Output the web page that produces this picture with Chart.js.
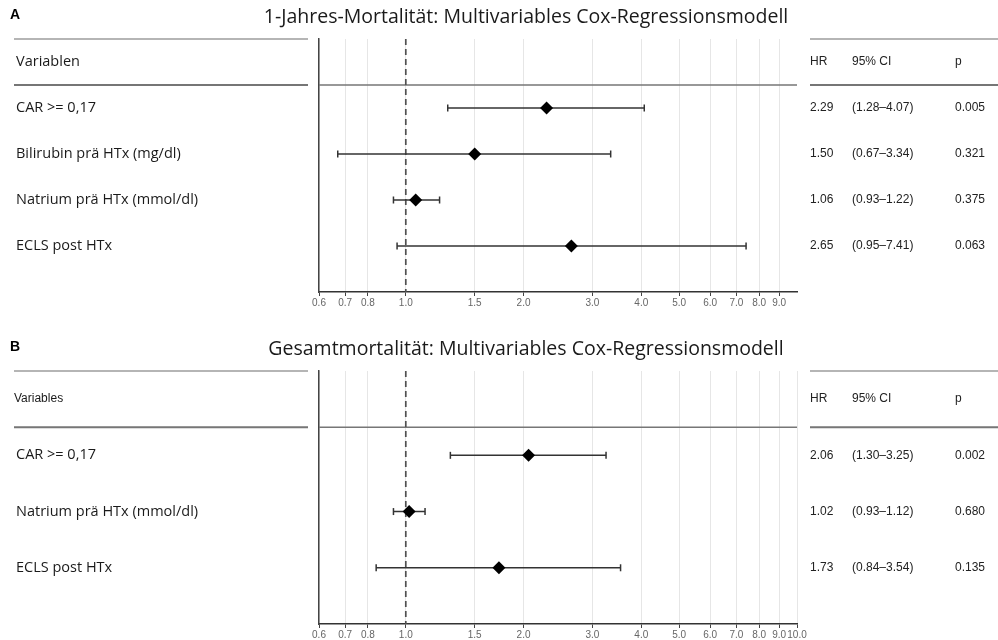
<!DOCTYPE html>
<html>
<head>
<meta charset="utf-8">
<script src="https://cdn.jsdelivr.net/npm/chart.js@4/dist/chart.umd.min.js"></script>
<style>
  html, body { margin: 0; padding: 0; background: #fff; overflow: hidden; }
  .panel { position: absolute; left: 0; width: 998px; height: 320px; }
  #wrapA { top: 0; }
  #wrapB { top: 320px; }
</style>
</head>
<body>
<div class="panel" id="wrapA"><canvas id="chartA" width="998" height="320"></canvas></div>
<div class="panel" id="wrapB"><canvas id="chartB" width="998" height="320"></canvas></div>
<script>
// Panel A: 1-year mortality
const titleA = '1-Jahres-Mortalität: Multivariables Cox-Regressionsmodell';
const headerA = 'Variablen';
const rowsA = ['CAR >= 0,17', 'Bilirubin prä HTx (mg/dl)', 'Natrium prä HTx (mmol/dl)', 'ECLS post HTx'];
const hrA = [2.29, 1.50, 1.06, 2.65];
const loA = [1.28, 0.67, 0.93, 0.95];
const hiA = [4.07, 3.34, 1.22, 7.41];
const pA = ['0.005', '0.321', '0.375', '0.063'];
const ticksA = [0.6, 0.7, 0.8, 1.0, 1.5, 2.0, 3.0, 4.0, 5.0, 6.0, 7.0, 8.0, 9.0];

// Panel B: overall mortality
const titleB = 'Gesamtmortalität: Multivariables Cox-Regressionsmodell';
const headerB = 'Variables';
const rowsB = ['CAR >= 0,17', 'Natrium prä HTx (mmol/dl)', 'ECLS post HTx'];
const hrB = [2.06, 1.02, 1.73];
const loB = [1.30, 0.93, 0.84];
const hiB = [3.25, 1.12, 3.54];
const pB = ['0.002', '0.680', '0.135'];
const ticksB = [0.6, 0.7, 0.8, 1.0, 1.5, 2.0, 3.0, 4.0, 5.0, 6.0, 7.0, 8.0, 9.0, 10.0];

const X_MIN = 0.6, X_MAX = 10;
const SANS = '"Open Sans", "Noto Sans", sans-serif';
const ARIAL = '"Liberation Sans", Arial, sans-serif';

// Draws the panel letter, title and the two side tables around the plot
const forestTable = {
  id: 'forestTable',
  afterDraw(chart, args, o) {
    const ctx = chart.ctx;
    const y = chart.scales.y;
    const area = chart.chartArea;
    ctx.save();

    // panel letter and title
    ctx.fillStyle = '#000';
    ctx.textBaseline = 'middle';
    ctx.textAlign = 'left';
    ctx.font = 'bold 14px ' + ARIAL;
    ctx.fillText(o.letter, 10, o.letterY);
    ctx.font = '19.5px ' + SANS;
    ctx.fillStyle = '#1a1a1a';
    ctx.textAlign = 'center';
    ctx.fillText(o.title, 526, o.titleY);

    // table rules
    const topY = area.top;
    const hdrY = y.getPixelForValue(0.5);
    ctx.lineWidth = 2;
    ctx.strokeStyle = '#b5b5b5';
    ctx.beginPath();
    ctx.moveTo(14, topY); ctx.lineTo(308, topY);
    ctx.moveTo(810, topY); ctx.lineTo(998, topY);
    ctx.stroke();
    ctx.strokeStyle = '#767676';
    ctx.beginPath();
    ctx.moveTo(14, hdrY); ctx.lineTo(308, hdrY);
    ctx.moveTo(810, hdrY); ctx.lineTo(998, hdrY);
    ctx.stroke();

    // headers
    const h0 = y.getPixelForValue(0);
    ctx.textAlign = 'left';
    ctx.fillStyle = '#1a1a1a';
    ctx.font = o.headerFont;
    ctx.fillText(o.header, o.headerX, h0);
    ctx.font = '12px ' + ARIAL;
    ctx.fillStyle = '#222';
    ctx.fillText('HR', 810, h0);
    ctx.fillText('95% CI', 852, h0);
    ctx.fillText('p', 955, h0);

    // rows
    o.rows.forEach((name, i) => {
      const py = y.getPixelForValue(i + 1);
      ctx.font = '14.5px ' + SANS;
      ctx.fillStyle = '#1a1a1a';
      ctx.fillText(name, 16, py);
      ctx.font = '12px ' + ARIAL;
      ctx.fillStyle = '#222';
      ctx.fillText(o.hr[i].toFixed(2), 810, py);
      ctx.fillText('(' + o.lo[i].toFixed(2) + '\u2013' + o.hi[i].toFixed(2) + ')', 852, py);
      ctx.fillText(o.p[i], 955, py);
    });
    ctx.restore();
  }
};

function buildChart(id, cfg) {
  const datasets = [];
  // point estimates
  datasets.push({
    type: 'scatter',
    data: cfg.hr.map((v, i) => ({ x: v, y: i + 1 })),
    pointStyle: 'rectRot',
    pointRadius: 6.5,
    backgroundColor: '#000',
    borderColor: '#000',
    borderWidth: 0,
    order: 0
  });
  // confidence intervals with end caps
  cfg.lo.forEach((lo, i) => {
    datasets.push({
      type: 'line',
      data: [{ x: lo, y: i + 1 }, { x: cfg.hi[i], y: i + 1 }],
      borderColor: '#333',
      borderWidth: 1.5,
      pointStyle: 'line',
      pointRotation: 90,
      pointRadius: 3.5,
      pointBorderColor: '#333',
      pointBorderWidth: 1.5,
      order: 1
    });
  });
  // reference line at HR = 1
  datasets.push({
    type: 'line',
    data: [{ x: 1, y: -0.5 }, { x: 1, y: cfg.yMax }],
    borderColor: '#505050',
    borderWidth: 1.7,
    borderDash: [6, 4],
    pointRadius: 0,
    order: 2
  });
  // rule under the header row
  datasets.push({
    type: 'line',
    data: [{ x: X_MIN, y: 0.5 }, { x: X_MAX, y: 0.5 }],
    borderColor: '#767676',
    borderWidth: 1.6,
    pointRadius: 0,
    order: 3
  });

  return new Chart(document.getElementById(id), {
    type: 'scatter',
    data: { datasets },
    plugins: [forestTable],
    options: {
      responsive: false,
      animation: false,
      events: [],
      layout: { padding: cfg.padding },
      plugins: {
        legend: { display: false },
        tooltip: { enabled: false },
        forestTable: cfg
      },
      scales: {
        x: {
          type: 'logarithmic',
          min: X_MIN,
          max: X_MAX,
          afterBuildTicks: (s) => { s.ticks = cfg.ticks.map(v => ({ value: v })); },
          afterFit: (s) => { s.height = 16; },
          ticks: {
            autoSkip: false,
            maxRotation: 0,
            padding: 1,
            color: '#666',
            font: { family: ARIAL, size: 10 },
            callback: (v) => Number(v).toFixed(1)
          },
          grid: { color: '#e6e6e6', lineWidth: 1, tickLength: 4, tickColor: '#444' },
          border: { color: '#333', width: 1.5 }
        },
        y: {
          type: 'linear',
          reverse: true,
          min: -0.5,
          max: cfg.yMax,
          afterFit: (s) => { s.width = 0; },
          ticks: { display: false },
          grid: { display: false },
          border: { color: '#444', width: 1.5 }
        }
      }
    }
  });
}

buildChart('chartA', {
  letter: 'A', letterY: 15, title: titleA, titleY: 17,
  header: headerA, headerX: 16, headerFont: '14.5px ' + SANS,
  rows: rowsA, hr: hrA, lo: loA, hi: hiA, p: pA, ticks: ticksA,
  yMax: 5,
  padding: { left: 319, right: 201, top: 39, bottom: 12 }
});

buildChart('chartB', {
  letter: 'B', letterY: 27, title: titleB, titleY: 29,
  header: headerB, headerX: 14, headerFont: '12px ' + ARIAL,
  rows: rowsB, hr: hrB, lo: loB, hi: hiB, p: pB, ticks: ticksB,
  yMax: 4,
  padding: { left: 319, right: 201, top: 51, bottom: 0 }
});
</script>
</body>
</html>
